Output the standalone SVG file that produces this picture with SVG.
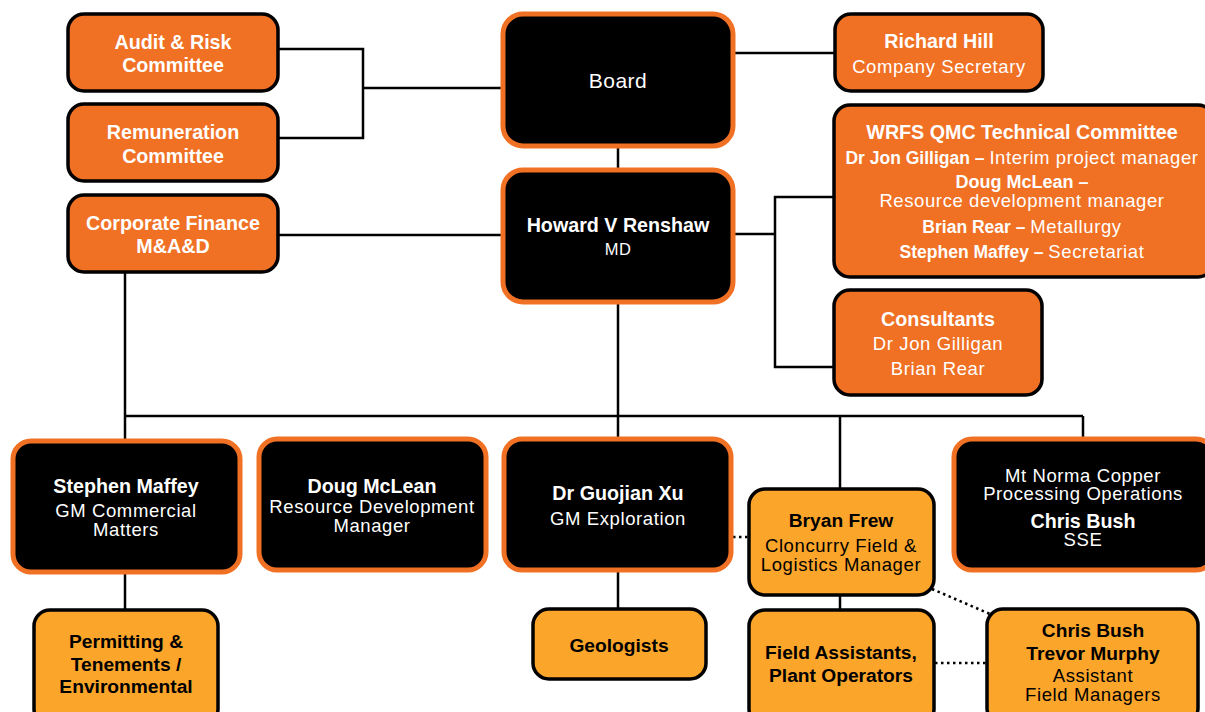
<svg xmlns="http://www.w3.org/2000/svg" width="1205" height="712" viewBox="0 0 1205 712">
<style>
.bg{fill:#fff}
.o{fill:#F07024;stroke:#000;stroke-width:3.5}
.k{fill:#000;stroke:#F07024;stroke-width:5}
.y{fill:#FBA52B;stroke:#000;stroke-width:3.5}
.ln{fill:none;stroke:#000;stroke-width:2.5}
.dt{fill:none;stroke:#000;stroke-width:2.5;stroke-dasharray:2.5 3.5}
text{font-family:"Liberation Sans",Arial,sans-serif;text-anchor:middle}
.w{fill:#fff}
.b{fill:#000}
.t{font-size:19.7px;font-weight:bold}
.tb{font-size:19.2px;font-weight:bold}
.r{font-size:18.5px;letter-spacing:0.6px}
.sb{font-weight:bold;font-size:17.5px;letter-spacing:0}
</style>
<rect class="bg" width="1205" height="712"/>
<g id="connectors">
<polyline class="ln" points="279,49 363,49 363,138 279,138"/>
<line class="ln" x1="363" y1="88" x2="503" y2="88"/>
<line class="ln" x1="618" y1="146" x2="618" y2="169"/>
<line class="ln" x1="734" y1="53" x2="835" y2="53"/>
<line class="ln" x1="279" y1="235" x2="502" y2="235"/>
<line class="ln" x1="734" y1="234" x2="775" y2="234"/>
<polyline class="ln" points="833,197 775,197 775,367 833,367"/>
<line class="ln" x1="125" y1="272" x2="125" y2="439"/>
<line class="ln" x1="618" y1="303" x2="618" y2="437"/>
<line class="ln" x1="125" y1="416" x2="1083" y2="416"/>
<line class="ln" x1="840" y1="416" x2="840" y2="488"/>
<line class="ln" x1="1083" y1="416" x2="1083" y2="437"/>
<line class="ln" x1="125" y1="574" x2="125" y2="609"/>
<line class="ln" x1="618" y1="572" x2="618" y2="608"/>
<line class="ln" x1="840" y1="595" x2="840" y2="609"/>
<line class="dt" x1="733" y1="537" x2="748" y2="537"/>
<line class="dt" x1="932" y1="589" x2="990" y2="614"/>
<line class="dt" x1="935" y1="663" x2="987" y2="663"/>
</g>
<g id="audit">
<rect class="o" x="68" y="14" width="210" height="77" rx="16"/>
<text class="w t" x="173" y="49">Audit &amp; Risk</text>
<text class="w t" x="173" y="72">Committee</text>
</g>
<g id="remuneration">
<rect class="o" x="68" y="104" width="210" height="77" rx="16"/>
<text class="w t" x="173" y="139">Remuneration</text>
<text class="w t" x="173" y="163">Committee</text>
</g>
<g id="corpfin">
<rect class="o" x="68" y="195" width="210" height="77" rx="16"/>
<text class="w t" x="173" y="230">Corporate Finance</text>
<text class="w t" x="173" y="253">M&amp;A&amp;D</text>
</g>
<g id="board">
<rect class="k" x="503" y="14" width="230" height="132" rx="20"/>
<text class="w" x="618" y="88" style="font-size:21px;letter-spacing:0.5px">Board</text>
</g>
<g id="howard">
<rect class="k" x="503" y="170" width="230" height="132" rx="20"/>
<text class="w t" x="618" y="232">Howard V Renshaw</text>
<text class="w" x="618" y="255" style="font-size:16.5px;letter-spacing:0.3px">MD</text>
</g>
<g id="richard">
<rect class="o" x="835" y="14" width="208" height="77" rx="16"/>
<text class="w t" x="939" y="48">Richard Hill</text>
<text class="w r" x="939" y="73">Company Secretary</text>
</g>
<g id="wrfs">
<rect class="o" x="834" y="105" width="380" height="172" rx="16"/>
<text class="w t" x="1022" y="139">WRFS QMC Technical Committee</text>
<text class="w r" x="1022" y="164"><tspan class="sb">Dr Jon Gilligan – </tspan>Interim project manager</text>
<text class="w" x="1022" y="188" style="font-size:18px;font-weight:bold">Doug McLean –</text>
<text class="w r" x="1022" y="207">Resource development manager</text>
<text class="w r" x="1022" y="233"><tspan class="sb">Brian Rear – </tspan>Metallurgy</text>
<text class="w r" x="1022" y="258"><tspan class="sb">Stephen Maffey – </tspan>Secretariat</text>
</g>
<g id="consultants">
<rect class="o" x="834" y="290" width="208" height="105" rx="16"/>
<text class="w t" x="938" y="326">Consultants</text>
<text class="w r" x="938" y="350">Dr Jon Gilligan</text>
<text class="w r" x="938" y="375">Brian Rear</text>
</g>
<g id="stephen">
<rect class="k" x="13" y="441" width="227" height="131" rx="18"/>
<text class="w t" x="126" y="493">Stephen Maffey</text>
<text class="w r" x="126" y="517">GM Commercial</text>
<text class="w r" x="126" y="536">Matters</text>
</g>
<g id="doug">
<rect class="k" x="259" y="439" width="227" height="131" rx="18"/>
<text class="w t" x="372" y="493">Doug McLean</text>
<text class="w r" x="372" y="513">Resource Development</text>
<text class="w r" x="372" y="532">Manager</text>
</g>
<g id="guojian">
<rect class="k" x="504" y="439" width="227" height="131" rx="18"/>
<text class="w t" x="618" y="500">Dr Guojian Xu</text>
<text class="w r" x="618" y="525">GM Exploration</text>
</g>
<g id="mtnorma">
<rect class="k" x="954" y="439" width="260" height="131" rx="18"/>
<text class="w r" x="1083" y="482">Mt Norma Copper</text>
<text class="w r" x="1083" y="500">Processing Operations</text>
<text class="w t" x="1083" y="528">Chris Bush</text>
<text class="w r" x="1083" y="546">SSE</text>
</g>
<g id="bryan">
<rect class="y" x="749" y="489" width="185" height="106" rx="16"/>
<text class="b tb" x="841" y="527">Bryan Frew</text>
<text class="b r" x="841" y="552">Cloncurry Field &amp;</text>
<text class="b r" x="841" y="571">Logistics Manager</text>
</g>
<g id="permitting">
<rect class="y" x="34" y="610" width="184" height="115" rx="16"/>
<text class="b tb" x="126" y="648">Permitting &amp;</text>
<text class="b tb" x="126" y="671">Tenements /</text>
<text class="b tb" x="126" y="693">Environmental</text>
</g>
<g id="geologists">
<rect class="y" x="533" y="609" width="173" height="70" rx="16"/>
<text class="b tb" x="619" y="652">Geologists</text>
</g>
<g id="fieldassist">
<rect class="y" x="749" y="610" width="185" height="115" rx="16"/>
<text class="b tb" x="841" y="659">Field Assistants,</text>
<text class="b tb" x="841" y="682">Plant Operators</text>
</g>
<g id="assistants">
<rect class="y" x="987" y="609" width="211" height="115" rx="16"/>
<text class="b tb" x="1093" y="637">Chris Bush</text>
<text class="b tb" x="1093" y="660">Trevor Murphy</text>
<text class="b r" x="1093" y="682">Assistant</text>
<text class="b r" x="1093" y="701">Field Managers</text>
</g>
</svg>
